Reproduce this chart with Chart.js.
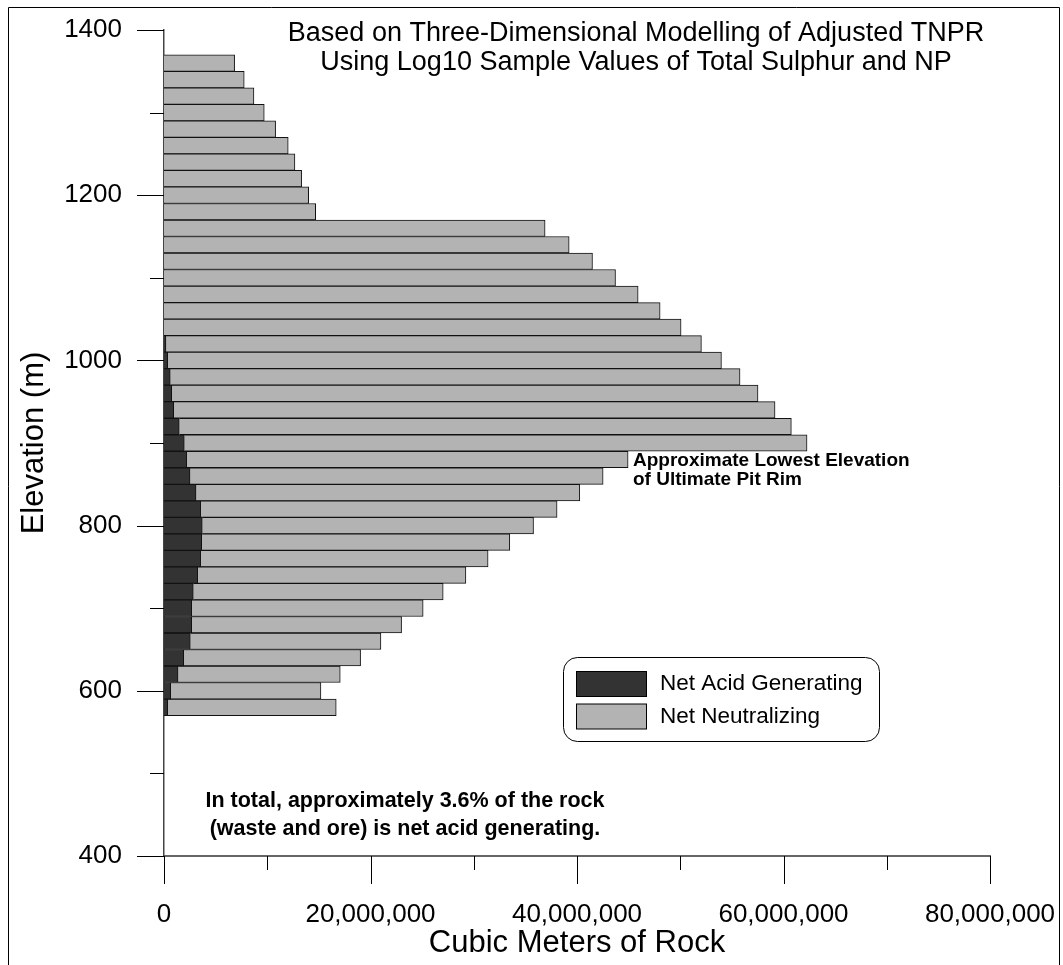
<!DOCTYPE html>
<html>
<head>
<meta charset="utf-8">
<script src="https://cdn.jsdelivr.net/npm/chart.js@4"></script>
<style>
  html, body { margin: 0; padding: 0; background: #fff; }
  #wrap { width: 1063px; height: 965px; }
</style>
</head>
<body>
<div id="wrap"><canvas id="chart1" width="1063" height="965"></canvas></div>
<script>
// elevation of each bench (m)
const elevations = [1360, 1340, 1320, 1300, 1280, 1260, 1240, 1220, 1200, 1180,
    1160, 1140, 1120, 1100, 1080, 1060, 1040, 1020, 1000, 980,
    960, 940, 920, 900, 880, 860, 840, 820, 800, 780,
    760, 740, 720, 700, 680, 660, 640, 620, 600, 580]

// cubic meters, net acid generating
const acidGenerating = [0, 0, 0, 0, 0, 0, 0, 0, 0, 0,
    0, 0, 0, 0, 0, 0, 0, 190000, 360000, 610000,
    750000, 940000, 1480000, 1970000, 2200000, 2520000, 3100000, 3550000, 3710000, 3650000,
    3550000, 3260000, 2840000, 2680000, 2680000, 2550000, 1910000, 1360000, 650000, 360000]

// cubic meters, net neutralizing
const netNeutralizing = [6840000, 7770000, 8710000, 9710000, 10810000, 12030000, 12680000, 13330000, 14010000, 14690000,
    36910000, 39240000, 41500000, 43730000, 45920000, 48050000, 50080000, 51860000, 53630000, 55180000,
    56780000, 58240000, 59280000, 60310000, 42750000, 40010000, 37170000, 34520000, 32080000, 29840000,
    27840000, 25980000, 24200000, 22420000, 20330000, 18460000, 17130000, 15710000, 14550000, 16320000]

const seriesNames = ['Net Acid Generating', 'Net Neutralizing']
const xMajorTicks = [0, 20000000, 40000000, 60000000, 80000000]
const yMajorTicks = [400, 600, 800, 1000, 1200, 1400]

const titleLines = ['Based on Three-Dimensional Modelling of Adjusted TNPR',
    'Using Log10 Sample Values of Total Sulphur and NP']
const rimNote = ['Approximate Lowest Elevation', 'of Ultimate Pit Rim']
const totalNote = ['In total, approximately 3.6% of the rock', '(waste and ore) is net acid generating.']

const FONT = '"Liberation Sans", Arial, sans-serif'

const points = (vals) => vals.map((v, i) => ({x: v, y: elevations[i]}))

// tick marks: long for labelled ticks, short for the others
const tickMarks = {
    id: 'tickMarks',
    afterDraw(chart) {
        const ctx = chart.ctx
        const xs = chart.scales.x, ys = chart.scales.y
        ctx.save()
        ctx.strokeStyle = '#000'
        ctx.lineWidth = 1
        xs.ticks.forEach((t, i) => {
            const px = Math.round(xs.getPixelForTick(i)) + 0.5
            const len = xMajorTicks.includes(t.value) ? 28 : 14
            ctx.beginPath(); ctx.moveTo(px, xs.top); ctx.lineTo(px, xs.top + len); ctx.stroke()
        })
        ys.ticks.forEach((t, i) => {
            const py = Math.round(ys.getPixelForTick(i)) + 0.5
            const len = yMajorTicks.includes(t.value) ? 27 : 14
            ctx.beginPath(); ctx.moveTo(ys.right, py); ctx.lineTo(ys.right - len, py); ctx.stroke()
        })
        ctx.restore()
    }
}

// texts, legend box and outer frame
const decorations = {
    id: 'decorations',
    afterDraw(chart) {
        const ctx = chart.ctx
        ctx.save()
        ctx.fillStyle = '#000'
        ctx.textBaseline = 'middle'

        ctx.font = '27px ' + FONT
        ctx.textAlign = 'center'
        ctx.fillText(titleLines[0], 636, 34)
        ctx.fillText(titleLines[1], 636, 63)

        ctx.font = 'bold 19px ' + FONT
        ctx.textAlign = 'left'
        ctx.fillText(rimNote[0], 633, 461)
        ctx.fillText(rimNote[1], 633, 480)

        ctx.font = 'bold 21.5px ' + FONT
        ctx.textAlign = 'center'
        ctx.fillText(totalNote[0], 405, 801)
        ctx.fillText(totalNote[1], 405, 829)

        // legend
        ctx.strokeStyle = '#000'
        ctx.lineWidth = 1
        ctx.beginPath()
        ctx.roundRect(563.5, 657.5, 316, 84, 14)
        ctx.fillStyle = '#fff'
        ctx.fill()
        ctx.stroke()
        chart.data.datasets.forEach((ds, i) => {
            const top = 671 + i * 32.5
            ctx.fillStyle = ds.backgroundColor
            ctx.fillRect(576.5, top + 0.5, 70, 25)
            ctx.strokeRect(576.5, top + 0.5, 70, 25)
            ctx.fillStyle = '#000'
            ctx.font = '22.5px ' + FONT
            ctx.textAlign = 'left'
            ctx.fillText(ds.label, 660, top + 13)
        })

        // outer frame
        ctx.beginPath()
        ctx.moveTo(8.5, 965); ctx.lineTo(8.5, 7.5); ctx.lineTo(1059.5, 7.5); ctx.lineTo(1059.5, 965)
        ctx.stroke()
        ctx.restore()
    }
}

new Chart(document.getElementById('chart1'), {
    type: 'bar',
    data: {
        datasets: [{
            label: seriesNames[0],
            data: points(acidGenerating),
            backgroundColor: '#333333',
            borderColor: '#111111',
            borderWidth: 1,
            barPercentage: 1,
            categoryPercentage: 1
        }, {
            label: seriesNames[1],
            data: points(netNeutralizing),
            backgroundColor: '#b3b3b3',
            borderColor: '#111111',
            borderWidth: 1,
            barPercentage: 1,
            categoryPercentage: 1
        }]
    },
    options: {
        indexAxis: 'y',
        responsive: false,
        animation: false,
        layout: { padding: { top: 30, right: 73, left: 0, bottom: 0 } },
        plugins: {
            legend: { display: false },
            tooltip: { enabled: false }
        },
        scales: {
            x: {
                type: 'linear',
                stacked: true,
                min: 0,
                max: 80000000,
                grid: { display: false, drawTicks: false },
                border: { display: true, color: '#666', width: 2 },
                ticks: {
                    stepSize: 10000000,
                    autoSkip: false,
                    maxRotation: 0,
                    padding: 43,
                    color: '#000',
                    font: { family: FONT, size: 26 },
                    callback: (v) => xMajorTicks.includes(v) ? v.toLocaleString('en-US') : ''
                },
                title: {
                    display: true,
                    text: 'Cubic Meters of Rock',
                    color: '#000',
                    font: { family: FONT, size: 31 },
                    padding: { top: 0, bottom: 3 }
                },
                afterFit: (s) => { s.height = 109; s.paddingLeft = 0; s.paddingRight = 0 }
            },
            y: {
                type: 'linear',
                stacked: true,
                offset: false,
                min: 400,
                max: 1400,
                grid: { display: false, drawTicks: false },
                border: { display: true, color: '#444', width: 1.5 },
                ticks: {
                    stepSize: 100,
                    autoSkip: false,
                    padding: 42,
                    color: '#000',
                    font: { family: FONT, size: 26 },
                    callback: (v) => yMajorTicks.includes(v) ? String(v) : ''
                },
                title: {
                    display: true,
                    text: 'Elevation (m)',
                    color: '#000',
                    font: { family: FONT, size: 31 },
                    padding: { top: 16, bottom: 0 }
                },
                afterFit: (s) => { s.width = 164; s.paddingTop = 0; s.paddingBottom = 0 }
            }
        }
    },
    plugins: [tickMarks, decorations]
})
</script>
</body>
</html>
